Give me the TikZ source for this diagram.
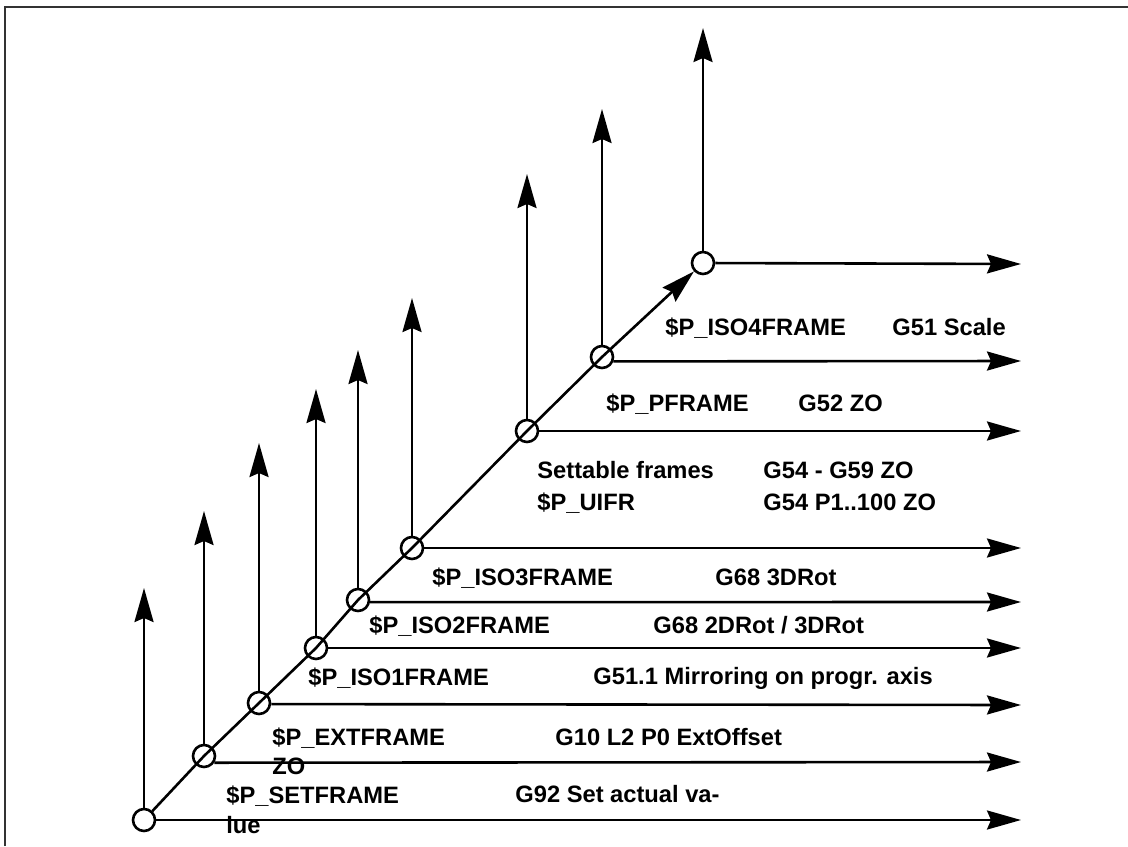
\documentclass[tikz,border=0pt]{standalone}
\usepackage{fontspec}
\setmainfont{Liberation Sans}
\usetikzlibrary{arrows.meta}

\begin{document}
\begin{tikzpicture}[x=0.5pt,y=-0.5pt,
  axis/.style={line width=1.3pt,-{Stealth[length=17pt,width=9.5pt,inset=2pt]}},
  orig/.style={circle,draw,line width=1.3pt,minimum size=11pt,inner sep=0pt},
  lbl/.style={anchor=base west,inner sep=0pt,font=\fontsize{11.85}{14}\selectfont\bfseries}]
  \useasboundingbox (0,0) rectangle (1128,846);
  % frame of the page
  \draw[line width=1.2pt,black!80] (5,846) -- (5,7) -- (1128,7);
  % origins of the frames
  \node[orig] (O0) at (144,820) {};
  \node[orig] (O1) at (204,756) {};
  \node[orig] (O2) at (259,703) {};
  \node[orig] (O3) at (316,648) {};
  \node[orig] (O4) at (358,600) {};
  \node[orig] (O5) at (412,548) {};
  \node[orig] (O6) at (527,431) {};
  \node[orig] (O7) at (602,357) {};
  \node[orig] (O8) at (703,263) {};
  % ends of the vertical axes
  \coordinate (Z0) at (144,588);
  \coordinate (Z1) at (204,511);
  \coordinate (Z2) at (259,443);
  \coordinate (Z3) at (316,389);
  \coordinate (Z4) at (358,350);
  \coordinate (Z5) at (412,298);
  \coordinate (Z6) at (527,174);
  \coordinate (Z7) at (602,109);
  \coordinate (Z8) at (703,28);
  % ends of the horizontal axes
  \coordinate (X0) at (1021,820);
  \coordinate (X1) at (1021,762);
  \coordinate (X2) at (1021,705);
  \coordinate (X3) at (1021,648);
  \coordinate (X4) at (1021,602);
  \coordinate (X5) at (1021,548);
  \coordinate (X6) at (1021,431);
  \coordinate (X7) at (1021,361);
  \coordinate (X8) at (1021,264);
  % chain of frames
  \draw[axis] (O0) -- (O1.center) -- (O2.center) -- (O3.center) -- (O4.center)
    -- (O5.center) -- (O6.center) -- (O7.center) -- (O8);
  % vertical axes
  \draw[axis] (O0) -- (Z0);
  \draw[axis] (O1) -- (Z1);
  \draw[axis] (O2) -- (Z2);
  \draw[axis] (O3) -- (Z3);
  \draw[axis] (O4) -- (Z4);
  \draw[axis] (O5) -- (Z5);
  \draw[axis] (O6) -- (Z6);
  \draw[axis] (O7) -- (Z7);
  \draw[axis] (O8) -- (Z8);
  % horizontal axes
  \draw[axis] (O0) -- (X0);
  \draw[axis] (O1.-33) -- (X1);
  \draw[axis] (O2.-5) -- (X2);
  \draw[axis] (O3) -- (X3);
  \draw[axis] (O4.-10) -- (X4);
  \draw[axis] (O5) -- (X5);
  \draw[axis] (O6) -- (X6);
  \draw[axis] (O7.-21) -- (X7);
  \draw[axis] (O8) -- (X8);
  % frame variables
  \node[lbl] (setfr)  at (226,803) {\$P\_SETFRAME};
  \node[lbl] (setlue) at (226,833) {lue};
  \node[lbl] (extfr)  at (272,745) {\$P\_EXTFRAME};
  \node[lbl] (extzo)  at (272,774) {ZO};
  \node[lbl] (iso1fr) at (308,685) {\$P\_ISO1FRAME};
  \node[lbl] (iso2fr) at (369,633) {\$P\_ISO2FRAME};
  \node[lbl] (iso3fr) at (432,585) {\$P\_ISO3FRAME};
  \node[lbl] (settab) at (537,478) {Settable frames};
  \node[lbl] (uifr)   at (537,510) {\$P\_UIFR};
  \node[lbl] (pfr)    at (606,411) {\$P\_PFRAME};
  \node[lbl] (iso4fr) at (665,335) {\$P\_ISO4FRAME};
  % commands
  \node[lbl] (gset)   at (515,802) {G92 Set actual va-};
  \node[lbl] (gext)   at (555,745) {G10 L2 P0 ExtOffset};
  \node[lbl] (gmir)   at (593,684) {G51.1 Mirroring on progr. axis};
  \node[lbl] (grot2)  at (653,633) {G68 2DRot / 3DRot};
  \node[lbl] (grot3)  at (715,585) {G68 3DRot};
  \node[lbl] (gzo)    at (763,478) {G54 - G59 ZO};
  \node[lbl] (gzop)   at (763,510) {G54 P1..100 ZO};
  \node[lbl] (gpzo)   at (798,411) {G52 ZO};
  \node[lbl] (gscale) at (892,335) {G51 Scale};
\end{tikzpicture}
\end{document}
